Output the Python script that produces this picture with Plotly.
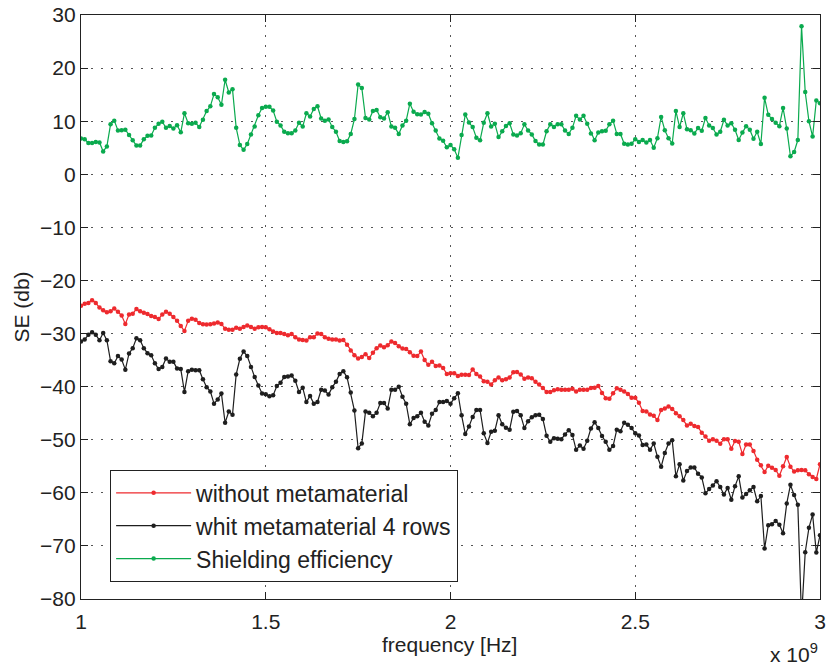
import numpy as np
import plotly.graph_objects as go

# frequency grid: 1 GHz to 3 GHz, 10 MHz step
freq = np.linspace(1e9, 3e9, 201)

without_meta = [
    -24.75, -24.4, -24.25, -23.75, -24.25, -25.1, -25.6, -26.0, -25.8, -25.3,
    -25.9, -26.6, -28.2, -26.4, -26.25, -25.4, -25.8, -26.1, -26.3, -26.7,
    -26.9, -27.25, -26.4, -25.9, -26.25, -26.9, -27.6, -28.6, -29.5, -27.6,
    -27.2, -27.4, -28.0, -28.25, -28.3, -28.25, -28.1, -27.9, -28.2, -29.1,
    -29.3, -29.3, -28.9, -29.1, -28.75, -28.5, -28.75, -29.1, -28.8, -28.75,
    -28.8, -29.2, -29.6, -29.9, -29.9, -30.1, -30.3, -30.1, -30.7, -31.1,
    -31.2, -31.3, -30.7, -30.7, -30.0, -30.1, -30.7, -31.0, -31.1, -31.1,
    -31.3, -31.2, -32.1, -33.2, -34.1, -34.7, -34.4, -33.9, -34.6, -33.6,
    -32.75, -32.25, -32.6, -32.2, -31.5, -31.8, -32.4, -32.8, -32.9, -33.5,
    -34.2, -34.25, -33.4, -35.0, -35.9, -35.3, -36.1, -36.0, -36.5, -37.6,
    -37.5, -37.5, -38.0, -37.75, -37.75, -37.8, -36.75, -37.6, -38.1, -39.0,
    -39.1, -39.6, -38.8, -38.3, -38.8, -38.6, -38.3, -37.3, -37.25, -37.7,
    -38.5, -38.3, -38.4, -39.1, -39.6, -40.25, -41.0, -41.0, -40.7, -40.5,
    -40.6, -40.6, -40.6, -40.4, -40.9, -40.6, -40.6, -40.6, -40.25, -40.2,
    -39.9, -41.2, -42.2, -42.3, -41.25, -40.3, -40.6, -40.9, -41.4, -42.1,
    -42.1, -43.05, -44.6, -44.7, -45.25, -45.5, -46.3, -44.4, -44.1, -43.75,
    -44.2, -45.0, -45.6, -46.3, -47.3, -47.0, -47.4, -47.6, -48.7, -49.4,
    -50.2, -49.9, -50.2, -50.75, -49.9, -49.9, -51.7, -50.25, -50.4, -52.7,
    -50.9, -50.9, -52.1, -53.75, -54.8, -56.1, -54.9, -55.3, -55.7, -56.8,
    -55.0, -53.25, -55.1, -56.0, -55.75, -55.7, -55.75, -56.5, -57.0, -57.4,
    -54.6,
]

with_meta = [
    -31.5, -31.1, -30.25, -29.75, -30.25, -31.25, -29.9, -31.25, -35.2, -35.6,
    -34.25, -34.9, -36.8, -33.75, -32.75, -30.9, -31.25, -32.75, -33.7, -34.1,
    -35.6, -36.7, -36.3, -34.7, -35.3, -35.3, -36.6, -36.7, -41.0, -37.1,
    -36.8, -36.9, -36.9, -38.6, -40.1, -40.9, -43.2, -42.4, -41.3, -46.8,
    -44.7, -45.3, -37.7, -34.75, -33.4, -34.25, -36.3, -38.2, -39.8, -41.3,
    -41.45, -41.8, -41.6, -39.9, -39.25, -38.2, -38.1, -37.9, -38.9, -41.0,
    -40.2, -42.9, -41.75, -43.2, -42.9, -40.6, -40.75, -41.5, -40.1, -39.1,
    -37.6, -37.1, -38.25, -41.1, -44.5, -51.6, -50.7, -44.7, -44.9, -45.6,
    -44.9, -43.1, -43.1, -44.1, -40.6, -40.6, -40.0, -41.9, -43.2, -47.1,
    -45.9, -45.6, -44.9, -46.6, -47.3, -45.1, -44.4, -42.9, -42.9, -42.7,
    -43.2, -42.2, -41.25, -45.4, -48.9, -47.5, -45.7, -44.4, -44.4, -48.8,
    -50.6, -48.5, -48.3, -45.4, -47.1, -47.75, -48.1, -44.75, -44.6, -45.4,
    -47.8, -46.5, -45.75, -45.4, -45.3, -46.1, -49.25, -50.4, -49.7, -49.8,
    -49.9, -49.0, -48.2, -49.1, -51.9, -51.1, -51.7, -50.2, -47.9, -46.7,
    -47.8, -49.3, -50.4, -51.9, -51.2, -48.1, -48.4, -46.8, -47.2, -47.8,
    -48.8, -49.2, -51.0, -50.9, -51.9, -50.7, -53.2, -55.1, -52.5, -50.7,
    -50.1, -56.9, -54.6, -57.7, -55.9, -55.25, -55.25, -56.4, -57.1, -60.1,
    -59.3, -58.6, -57.8, -58.9, -60.3, -59.1, -61.3, -58.75, -56.9, -60.9,
    -60.2, -59.5, -58.9, -61.6, -60.6, -70.5, -66.1, -65.9, -65.3, -66.0,
    -67.6, -62.0, -58.5, -60.4, -62.25, -83.6, -71.2, -66.6, -64.1, -71.25,
    -68.0,
]

shielding = [
    6.75, 6.6, 5.9, 5.9, 6.1, 6.0, 4.3, 5.25, 9.4, 10.1,
    8.25, 8.3, 8.4, 7.4, 6.4, 5.4, 5.4, 6.6, 7.25, 7.3,
    8.75, 9.5, 9.9, 8.75, 9.1, 8.6, 9.25, 7.9, 11.5, 9.6,
    9.5, 9.7, 8.9, 10.25, 11.9, 12.8, 15.1, 14.5, 13.1, 17.8,
    15.4, 16.0, 8.75, 5.5, 4.6, 5.7, 7.5, 9.0, 11.1, 12.5,
    12.7, 12.7, 12.0, 9.9, 9.2, 8.0, 7.75, 7.75, 8.25, 9.7,
    9.0, 11.5, 10.9, 12.3, 12.8, 10.5, 10.1, 10.3, 8.9, 8.0,
    6.25, 6.1, 6.2, 7.6, 10.4, 16.9, 16.25, 10.6, 10.3, 11.9,
    12.1, 10.75, 10.5, 11.7, 9.0, 8.75, 7.6, 9.2, 10.1, 13.3,
    11.8, 11.3, 11.25, 11.75, 11.4, 9.6, 8.25, 6.75, 6.3, 5.1,
    5.5, 4.7, 3.1, 7.4, 11.25, 9.75, 8.9, 6.9, 6.4, 9.7,
    11.5, 9.0, 9.5, 7.0, 8.1, 9.1, 9.6, 7.5, 7.3, 7.75,
    9.4, 8.25, 7.5, 6.25, 5.6, 5.6, 8.1, 9.4, 8.9, 9.4,
    9.4, 8.25, 7.6, 8.75, 11.0, 10.3, 11.0, 9.5, 7.7, 6.4,
    7.85, 8.1, 8.2, 9.4, 10.1, 7.6, 7.6, 5.75, 5.6, 5.75,
    6.6, 6.1, 6.45, 6.0, 6.45, 5.0, 6.8, 10.8, 8.3, 6.8,
    5.8, 11.9, 8.9, 11.5, 8.5, 8.3, 7.7, 8.7, 8.2, 10.6,
    9.2, 8.7, 7.5, 8.0, 10.25, 9.2, 9.6, 8.4, 6.45, 7.85,
    9.05, 8.4, 6.7, 8.0, 5.7, 14.4, 11.2, 10.4, 9.7, 9.05,
    12.5, 8.6, 3.4, 4.2, 6.45, 27.9, 15.5, 10.0, 7.1, 13.9,
    13.4,
]

series_names = ["without metamaterial", "whit metamaterial 4 rows", "Shielding efficiency"]
series_colors = ["#ee2a2e", "#1e1e1e", "#0aaa4e"]

x_tickvals = [1.0e9, 1.5e9, 2.0e9, 2.5e9, 3.0e9]
x_ticktext = ["1", "1.5", "2", "2.5", "3"]
y_tickvals = [30, 20, 10, 0, -10, -20, -30, -40, -50, -60, -70, -80]

FONT = "Liberation Sans, Arial, Helvetica, sans-serif"
TXT = "#222"

fig = go.Figure()
for ys, name, col in zip([without_meta, with_meta, shielding], series_names, series_colors):
    fig.add_trace(go.Scatter(
        x=freq, y=ys, name=name, mode="lines+markers",
        line=dict(color=col, width=1.2),
        marker=dict(color=col, size=4.5),
    ))

axis_common = dict(
    showline=True, linecolor=TXT, linewidth=1.3, mirror="allticks",
    ticks="inside", ticklen=7, tickcolor=TXT, tickwidth=1,
    showgrid=True, gridcolor="#555", gridwidth=1, griddash="2px,8px",
    zeroline=False, automargin=False,
    tickfont=dict(family=FONT, size=21, color=TXT),
)

fig.update_layout(
    width=828, height=668,
    paper_bgcolor="white", plot_bgcolor="white",
    margin=dict(l=81, r=8, t=15, b=69),
    font=dict(family=FONT, size=21, color=TXT),
    xaxis=dict(
        range=[1e9, 3e9], tickvals=x_tickvals, ticktext=x_ticktext,
        ticklabelstandoff=4,
        **axis_common,
    ),
    yaxis=dict(
        range=[-80, 30], tickvals=y_tickvals,
        ticklabelstandoff=0,
        title=dict(text="SE (db)", font=dict(family=FONT, size=21, color=TXT), standoff=4),
        **axis_common,
    ),
    legend=dict(
        x=0.039, y=0.029, xanchor="left", yanchor="bottom",
        bgcolor="white", bordercolor=TXT, borderwidth=1.3,
        font=dict(family=FONT, size=23, color=TXT),
        tracegroupgap=0, itemwidth=75,
    ),
    annotations=[
        dict(
            text="frequency [Hz]", xref="paper", yref="paper",
            x=0.498, y=-0.054, xanchor="center", yanchor="top",
            showarrow=False, font=dict(family=FONT, size=21, color=TXT),
        ),
        dict(
            text="x 10<sup>9</sup>", xref="paper", yref="paper",
            x=1.0, y=-0.067, xanchor="right", yanchor="top",
            showarrow=False, font=dict(family=FONT, size=21, color=TXT),
        ),
    ],
)

fig.write_html(
    "out.html",
    config={"displayModeBar": False},
    post_script="document.body.style.margin='0';document.body.style.padding='0';",
)
